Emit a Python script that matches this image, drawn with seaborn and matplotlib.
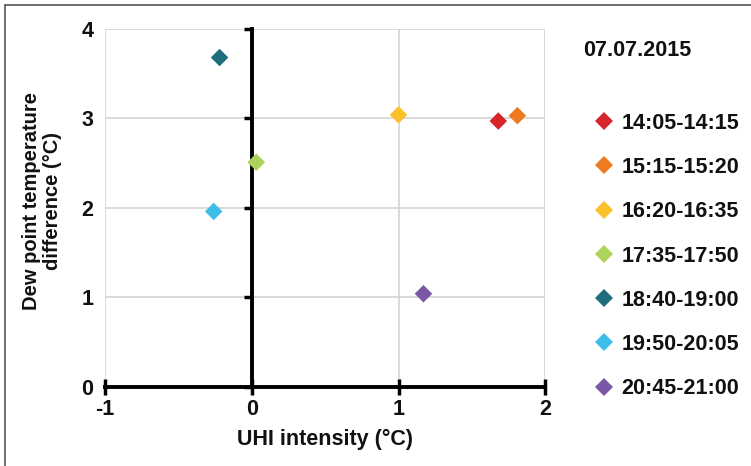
import pandas as pd
import numpy as np
import matplotlib.pyplot as plt
import seaborn as sns
from matplotlib.lines import Line2D

# values
periods = ["14:05-14:15", "15:15-15:20", "16:20-16:35", "17:35-17:50",
           "18:40-19:00", "19:50-20:05", "20:45-21:00"]
uhi = [1.68, 1.81, 1.00, 0.03, -0.22, -0.26, 1.17]
dew_diff = [2.97, 3.03, 3.04, 2.51, 3.68, 1.96, 1.04]
colors = ["#d7262b", "#ee7b22", "#fcc12a", "#add35a", "#1f6d7c", "#3ebde8", "#7b58a6"]
x_ticks = [-1, 0, 1, 2]
y_ticks = [0, 1, 2, 3, 4]

df = pd.DataFrame({"period": periods, "uhi": uhi, "dew": dew_diff})

sns.set_style("white")
plt.rcParams["font.family"] = ["Liberation Sans", "DejaVu Sans"]
plt.rcParams["font.weight"] = "bold"
plt.rcParams["axes.unicode_minus"] = False

fig = plt.figure(figsize=(7.51, 4.66), dpi=100)
ax = fig.add_axes([0.140, 0.170, 0.586, 0.768])

sns.scatterplot(data=df, x="uhi", y="dew", hue="period", palette=colors,
                marker="D", s=80, linewidth=0, ax=ax, zorder=5, clip_on=False)

ax.set_xlim(-1, 2)
ax.set_ylim(0, 4)
ax.set_xticks(x_ticks)
ax.set_yticks(y_ticks)
ax.grid(True, color="#d4d4d4", linewidth=1.2)
ax.set_axisbelow(True)

for side in ["right", "top"]:
    ax.spines[side].set_visible(False)
for side in ["left", "bottom"]:
    ax.spines[side].set_color("black")
    ax.spines[side].set_linewidth(2.8)
    ax.spines[side].set_zorder(4)
# vertical axis runs through x = 0, its labels stay at the left edge
ax.spines["left"].set_position(("data", 0))

ax.tick_params(axis="x", bottom=True, direction="inout", length=12, width=2.5,
               color="black", labelsize=15.5, pad=3, labelcolor="#111111")
ax.tick_params(axis="y", left=True, direction="out", length=6, width=2.5,
               color="black", labelsize=15.5, pad=108, labelcolor="#111111")
for lab in ax.get_xticklabels() + ax.get_yticklabels():
    lab.set_fontweight("bold")

ax.set_xlabel("UHI intensity (°C)", fontsize=15.5, fontweight="bold", labelpad=6,
              color="#111111")
ax.set_ylabel("Dew point temperature\ndifference (°C)", fontsize=14.5,
              fontweight="bold", linespacing=1.12, color="#111111")
ax.yaxis.set_label_coords(-0.098, 0.52)

handles, labels = ax.get_legend_handles_labels()
for h in handles:
    h.set_markersize(9)
ax.legend(handles, labels, loc="upper left", bbox_to_anchor=(0.787, 0.758),
          bbox_transform=fig.transFigure, frameon=False,
          prop={"weight": "bold", "size": 15.5}, labelspacing=1.08,
          handletextpad=0.2, handlelength=1.2, borderpad=0, borderaxespad=0,
          labelcolor="#111111")
fig.text(0.776, 0.892, "07.07.2015", fontsize=15.5, fontweight="bold",
         va="center", color="#111111")

# partial frame around the figure (left and top edges)
fig.add_artist(Line2D([0.007, 0.007], [0.0, 0.99], transform=fig.transFigure,
                      color="#555555", linewidth=1.2))
fig.add_artist(Line2D([0.007, 1.0], [0.99, 0.99], transform=fig.transFigure,
                      color="#555555", linewidth=1.2))

fig.savefig("out.png", dpi=100, facecolor="white")
